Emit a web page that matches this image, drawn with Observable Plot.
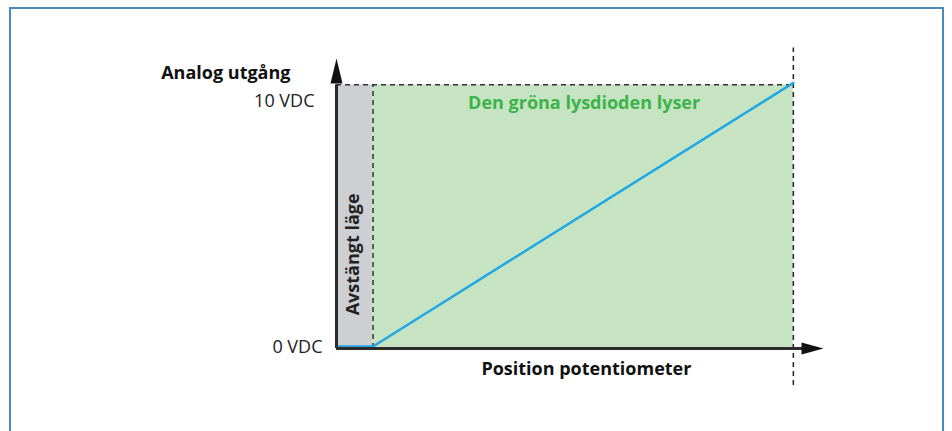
<!DOCTYPE html>
<html>
<head>
<meta charset="utf-8">
<script src="https://cdn.jsdelivr.net/npm/d3@7"></script>
<script src="https://cdn.jsdelivr.net/npm/@observablehq/plot@0.6"></script>
<style>
  html, body { margin: 0; padding: 0; background: #fff; }
  #wrap { position: relative; width: 952px; height: 431px; overflow: hidden; }
  #border { position: absolute; left: 9px; top: 7px; width: 935px; height: 440px; border: 2px solid #4f88b5; box-sizing: border-box; }
  #chart { position: absolute; left: 0; top: 0; }
</style>
</head>
<body>
<div id="wrap"><div id="border"></div><div id="chart"></div></div>
<script>
// Data
const xMax = 106.6;          // arrow tip of x axis (position units)
const yMax = 11;             // arrow tip of y axis (volts)
const offEnd = 8;            // end of "off" zone (position %)
const fullScale = 100;       // full potentiometer travel
const vMax = 10;             // 10 VDC
const outX = [0, 8, 100];    // output line positions
const outY = [0, 0, 10];     // output volts
const yTicks = [0, 10];
const yTickLabels = ["0 VDC", "10 VDC"];
const yTitle = "Analog utgång";
const xTitle = "Position potentiometer";
const offLabel = "Avstängt läge";
const onLabel = "Den gröna lysdioden lyser";

const font = "'Open Sans', sans-serif";
const tri = (w, h) => ({draw(ctx) { ctx.moveTo(0, -h/2); ctx.lineTo(w/2, h/2); ctx.lineTo(-w/2, h/2); ctx.closePath(); }});

const lineData = outX.map((x, i) => ({x, y: outY[i]}));

const chart = Plot.plot({
  width: 952,
  height: 431,
  marginLeft: 336,
  marginRight: 952 - 823,
  marginTop: 58,
  marginBottom: 431 - 348,
  style: {fontFamily: font, background: "transparent", overflow: "visible"},
  x: {domain: [0, xMax], axis: null},
  y: {domain: [0, yMax], axis: null},
  marks: [
    Plot.rectY([0], {x1: 0, x2: offEnd, y1: 0, y2: vMax, fill: "#cecfd3"}),
    Plot.rectY([0], {x1: offEnd, x2: fullScale, y1: 0, y2: vMax, fill: "#c6e4c2"}),
    Plot.ruleY([vMax], {x1: 0, x2: fullScale, stroke: "#333", strokeWidth: 1.5, strokeDasharray: "5,4"}),
    Plot.ruleX([offEnd], {y1: 0, y2: vMax, stroke: "#333", strokeWidth: 1.5, strokeDasharray: "5,4"}),
    Plot.ruleX([fullScale], {y1: -1.4, y2: 11.4, stroke: "#222", strokeWidth: 1.5, strokeDasharray: "5,4"}),
    Plot.line(lineData, {x: "x", y: "y", stroke: "#20a7e6", strokeWidth: 2.5, dy: -2}),
    Plot.ruleY([0], {x1: 0, x2: xMax - 3, stroke: "#2b2b2b", strokeWidth: 3}),
    Plot.ruleX([0], {y1: 0, y2: yMax - 1, stroke: "#2b2b2b", strokeWidth: 3}),
    Plot.dot([0], {x: 0, y: yMax, symbol: tri(12, 25), r: 1, fill: "#111", stroke: null, dy: 12.5}),
    Plot.dot([0], {x: xMax, y: 0, symbol: tri(12, 22), r: 1, fill: "#111", stroke: null, rotate: 90, dx: -11}),
    Plot.text([yTicks[0]], {x: 0, y: d => d, text: () => yTickLabels[0], textAnchor: "end", dx: -14, dy: -1.5, fontSize: 18, fill: "#222", fontFamily: font}),
    Plot.text([yTicks[1]], {x: 0, y: d => d, text: () => yTickLabels[1], textAnchor: "end", dx: -22, dy: 16.5, fontSize: 18, fill: "#222", fontFamily: font}),
    Plot.text([yTitle], {x: 0, y: yMax, text: d => d, textAnchor: "end", dx: -46, dy: 15, fontSize: 18, fontWeight: "bold", fill: "#111", fontFamily: font}),
    Plot.text([xTitle], {x: 54.7, y: 0, text: d => d, dy: 21, fontSize: 18, fontWeight: "bold", fill: "#111", fontFamily: font}),
    Plot.text([onLabel], {x: 54.2, y: vMax, text: d => d, dy: 18, fontSize: 18, fontWeight: "bold", fill: "#3cb34a", fontFamily: font}),
    Plot.text([offLabel], {x: 3.7, y: 3.57, text: d => d, rotate: -90, fontSize: 18, fontWeight: "bold", fill: "#222", fontFamily: font})
  ]
});
document.getElementById("chart").appendChild(chart);
</script>
</body>
</html>
